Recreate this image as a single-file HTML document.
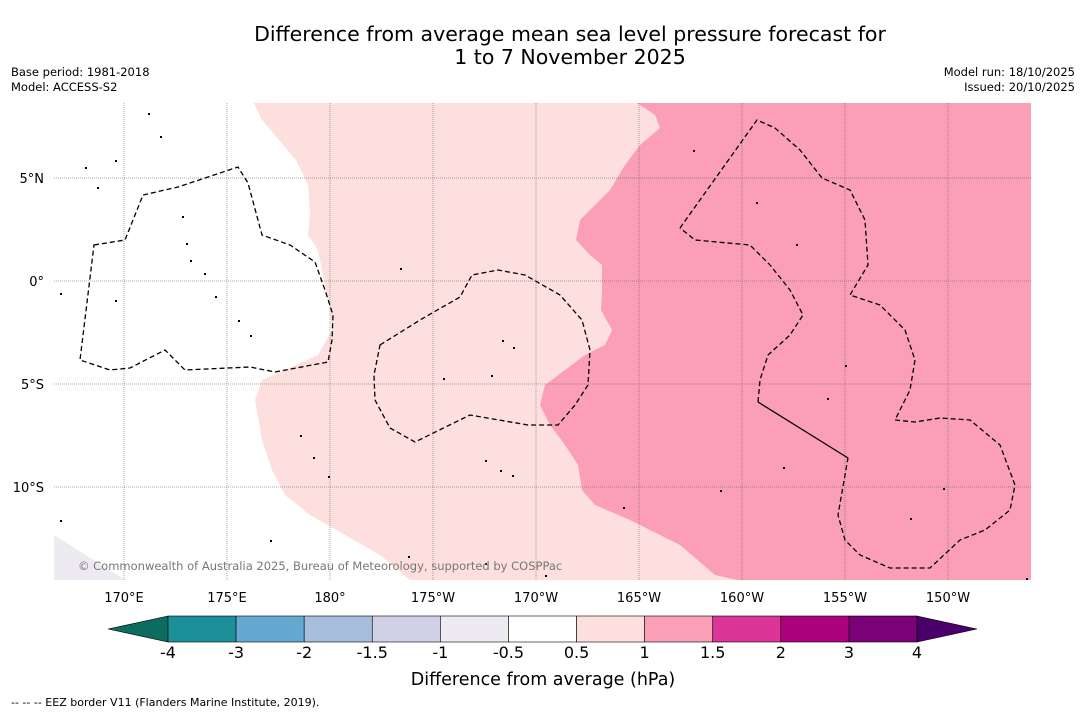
<!DOCTYPE html>
<html><head><meta charset="utf-8"><style>
body{margin:0;background:#fff;font-family:"DejaVu Sans","Liberation Sans",sans-serif;}
svg{display:block}
</style></head><body>
<svg width="1085" height="713" viewBox="0 0 1085 713">
<text x="570" y="41" font-size="20.5" text-anchor="middle">Difference from average mean sea level pressure forecast for</text>
<text x="570" y="64" font-size="20.5" text-anchor="middle">1 to 7 November 2025</text>
<text x="11" y="76" font-size="11.5">Base period: 1981-2018</text>
<text x="11" y="91" font-size="11.5">Model: ACCESS-S2</text>
<text x="1075" y="76" font-size="11.5" text-anchor="end">Model run: 18/10/2025</text>
<text x="1075" y="91" font-size="11.5" text-anchor="end">Issued: 20/10/2025</text>
<g id="map"></g>
<g id="cbar"></g>
<text x="543" y="685" font-size="17.5" text-anchor="middle">Difference from average (hPa)</text>
<text x="11" y="706" font-size="11">--  --  -- EEZ border V11 (Flanders Marine Institute, 2019).</text>
</svg>
<script>
const NS="http://www.w3.org/2000/svg";
const X0=54,X1=1031,Y0=103,Y1=580;
const lonTicks=[170,175,180,185,190,195,200,205,210];
const lonLabels=["170°E","175°E","180°","175°W","170°W","165°W","160°W","155°W","150°W"];
const latTicks=[5,0,-5,-10];
const latLabels=["5°N","0°","5°S","10°S"];
const cbLevels=["-4","-3","-2","-1.5","-1","-0.5","0.5","1","1.5","2","3","4"];
const cbColors=["#1b9098","#64a9d0","#a6bddb","#d0d1e6","#eeeaf2","#ffffff","#fde0dd","#fa9fb5","#dd3497","#ae017e","#7a0177"];
function xs(lon){return 124+(lon-170)*20.6;}
function ys(lat){return 281-lat*20.6;}
function el(t,a,p){const e=document.createElementNS(NS,t);for(const k in a)e.setAttribute(k,a[k]);p.appendChild(e);return e;}
const map=document.getElementById('map');
el('rect',{x:X0,y:Y0,width:X1-X0,height:Y1-Y0,fill:'#fff'},map);
const clip=el('clipPath',{id:'mc'},map);el('rect',{x:X0,y:Y0,width:X1-X0,height:Y1-Y0},clip);
const g=el('g',{'clip-path':'url(#mc)'},map);
let p;
p=el('path',{fill:'#fde0dd',d:'M254,103 L262,120 296,160 308,185 310,215 308,235 318,250 322,270 330,310 332,330 318,355 285,370 262,380 255,400 262,440 272,470 285,495 310,515 345,535 380,555 410,580 1031,580 1031,103 Z'},g);

p=el('path',{fill:'#fa9fb5',d:'M637,103 L655,115 660,128 640,145 625,165 610,190 595,205 580,220 576,240 590,255 602,265 602,290 601,310 612,330 605,345 585,355 565,370 545,385 540,405 550,425 565,445 578,465 582,490 595,505 630,520 680,545 715,575 737,580 1031,580 1031,103 Z'},g);

p=el('path',{fill:'#eeeaf2',d:'M54,535 L125,580 54,580 Z'},g);

lonTicks.forEach((l,i)=>{const x=xs(l);el('line',{x1:x,x2:x,y1:Y0,y2:Y1,stroke:'#555','stroke-width':0.5,'stroke-dasharray':'1,1'},g);
 const t=el('text',{x:x,y:602,'font-size':13,'text-anchor':'middle'},map);t.textContent=lonLabels[i];
 });
latTicks.forEach((l,i)=>{const y=ys(l);el('line',{x1:X0,x2:X1,y1:y,y2:y,stroke:'#555','stroke-width':0.5,'stroke-dasharray':'1,1'},g);
 const t=el('text',{x:44,y:y+5,'font-size':13,'text-anchor':'end'},map);t.textContent=latLabels[i];
 });
const eez=["M94,245 L125,240 143,195 178,187 238,167 248,183 262,235 290,245 315,262 325,290 333,315 332,340 328,362 275,372 250,367 185,370 165,350 130,368 110,370 80,360 Z",
"M380,345 L420,320 460,297 472,275 498,270 525,275 560,295 582,320 590,350 588,385 575,405 558,425 528,425 470,415 415,442 390,428 375,400 374,375 Z",
"M680,228 L757,120 775,128 800,150 822,178 850,190 865,220 868,265 850,295 880,305 905,330 915,360 910,390 895,420 915,422 940,418 970,420 1000,445 1015,485 1010,510 985,530 960,540 930,568 890,568 860,555 845,540 838,515 848,458 M758,402 L760,380 768,355 790,335 803,315 790,290 770,265 750,245 695,240 680,228"];
eez.forEach(d=>{const e=el('path',{d:d,fill:'none',stroke:'#000','stroke-width':1.3,'stroke-dasharray':'5,3'},g);
});
el('line',{x1:758,y1:402,x2:848,y2:458,stroke:'#000','stroke-width':1.3},g);
const isl=[[85,167],[97,187],[115,160],[148,113],[160,136],[182,216],[186,243],[190,260],[204,273],[215,296],[238,320],[250,335],[300,435],[313,457],[328,476],[400,268],[443,378],[491,375],[502,340],[513,347],[485,460],[512,475],[500,470],[623,507],[720,490],[693,150],[756,202],[796,244],[845,365],[827,398],[783,467],[943,488],[910,518],[1026,578],[270,540],[408,556],[485,563],[545,575],[60,520],[60,293],[115,300]];
isl.forEach(c=>{el('rect',{x:c[0],y:c[1],width:2,height:2,fill:'#000'},g);});
const cp=el('text',{x:78,y:570,'font-size':11.5,fill:'#777'},g);cp.textContent="© Commonwealth of Australia 2025, Bureau of Meteorology, supported by COSPPac";

const cb=document.getElementById('cbar');
const bx0=168,bx1=917,by0=616,by1=642,w=(bx1-bx0)/cbColors.length;
let tri=el('path',{d:`M${bx0},${by0} L108,629 ${bx0},${by1} Z`,fill:'#0b6d5f',stroke:'#000','stroke-width':0.6},cb);

tri=el('path',{d:`M${bx1},${by0} L977,629 ${bx1},${by1} Z`,fill:'#49006a',stroke:'#000','stroke-width':0.6},cb);

cbColors.forEach((c,i)=>{const r=el('rect',{x:bx0+i*w,y:by0,width:w,height:by1-by0,fill:c,stroke:'#000','stroke-width':0.6},cb);
});
cbLevels.forEach((l,i)=>{const t=el('text',{x:bx0+i*w,y:658,'font-size':16,'text-anchor':'middle'},cb);t.textContent=l;
});
</script>
</body></html>
